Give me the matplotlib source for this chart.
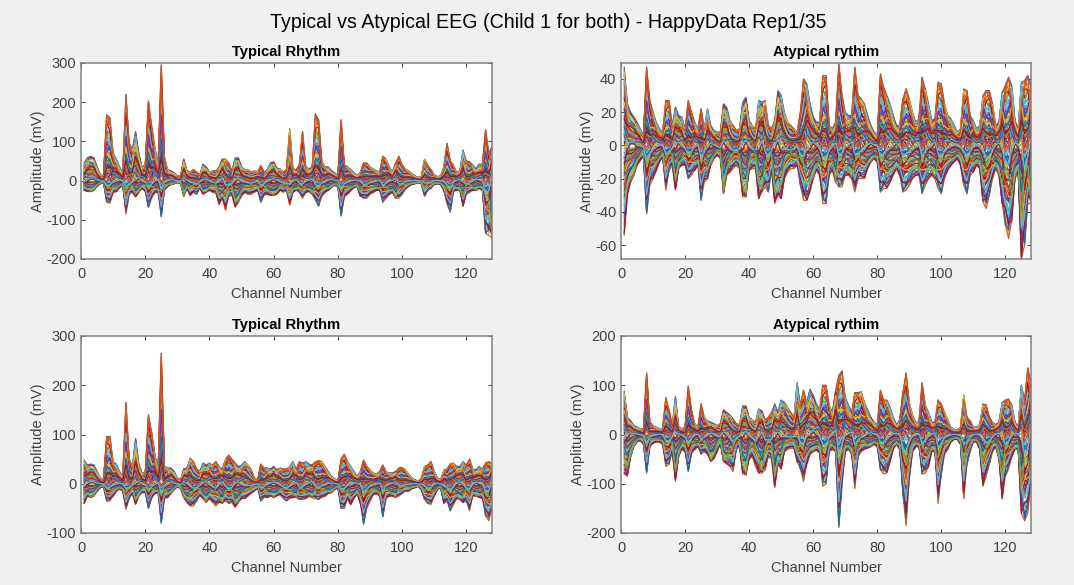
import matplotlib
matplotlib.use('Agg')
import matplotlib.pyplot as plt
import numpy as np

# Envelopes (top and bottom of each band), one value per channel.
# The single traces inside the band cannot be told apart, so they are drawn
# at the fixed fractions in trace_levels between these envelopes, and
# trace_drift / channel_phase only move them between those fractions so they cross.
channels = list(range(1, 129))

typical1_hi = [45, 58, 62, 58, 35, 15, 12, 168, 160, 70, 55, 35, 20, 220, 95, 80, 125, 70, 35, 40, 203, 140, 85, 40, 295, 60, 28, 25, 20, 12, 12, 55, 25, 22, 28, 22, 15, 42, 35, 22, 25, 25, 35, 55, 55, 45, 25, 58, 58, 35, 28, 28, 22, 25, 22, 38, 22, 28, 45, 48, 32, 30, 22, 28, 132, 30, 28, 40, 125, 35, 30, 35, 170, 155, 50, 35, 35, 25, 20, 12, 155, 40, 35, 28, 20, 12, 22, 45, 45, 35, 30, 25, 22, 62, 55, 35, 22, 45, 62, 40, 30, 25, 18, 12, 8, 10, 55, 38, 28, 15, 10, 12, 35, 95, 50, 40, 20, 25, 78, 50, 48, 40, 30, 42, 42, 130, 70, 87]
typical1_lo = [-25, -28, -28, -25, -15, -8, -5, -55, -58, -30, -28, -18, -12, -85, -35, -30, -42, -30, -20, -28, -68, -45, -30, -30, -92, -25, -15, -10, -8, -5, -8, -40, -20, -38, -30, -35, -20, -35, -30, -25, -30, -32, -60, -45, -75, -40, -38, -68, -55, -38, -30, -35, -35, -30, -25, -55, -38, -35, -38, -38, -35, -25, -30, -25, -62, -30, -25, -30, -45, -30, -28, -35, -50, -65, -40, -30, -25, -18, -12, -15, -90, -42, -35, -25, -18, -15, -40, -45, -45, -35, -30, -25, -25, -55, -45, -35, -30, -45, -45, -35, -22, -15, -10, -8, -5, -8, -40, -25, -20, -10, -8, -10, -25, -60, -80, -28, -25, -25, -65, -35, -30, -25, -25, -20, -25, -135, -140, -145]

atypical1_hi = [47, 25, 20, 17, 14, 10, 6, 47, 27, 20, 14, 10, 8, 27, 27, 12, 23, 18, 17, 10, 27, 20, 14, 10, 22, 10, 22, 12, 9, 8, 8, 25, 23, 15, 12, 9, 10, 26, 29, 15, 12, 10, 27, 26, 27, 12, 10, 15, 33, 30, 20, 14, 12, 10, 8, 20, 40, 37, 25, 17, 14, 14, 42, 42, 12, 10, 14, 49, 30, 20, 18, 18, 47, 30, 28, 25, 18, 12, 8, 6, 43, 35, 30, 25, 18, 12, 12, 28, 34, 28, 20, 14, 16, 41, 34, 25, 15, 16, 38, 37, 25, 18, 16, 12, 8, 10, 34, 33, 18, 15, 10, 12, 30, 33, 33, 25, 12, 14, 32, 36, 41, 36, 15, 10, 38, 39, 42, 36]
atypical1_lo = [-54, -30, -22, -18, -12, -9, -7, -41, -24, -20, -15, -10, -7, -27, -15, -12, -27, -14, -12, -12, -20, -18, -15, -12, -33, -22, -20, -12, -8, -6, -8, -29, -18, -16, -14, -12, -14, -31, -31, -15, -14, -14, -32, -28, -25, -28, -15, -35, -30, -32, -20, -16, -14, -14, -12, -24, -33, -33, -28, -20, -15, -18, -35, -35, -18, -15, -22, -25, -25, -18, -18, -20, -28, -20, -20, -20, -14, -10, -8, -10, -28, -26, -26, -22, -18, -14, -18, -28, -27, -24, -20, -18, -18, -29, -24, -20, -18, -20, -26, -29, -20, -15, -12, -10, -8, -12, -24, -29, -18, -16, -12, -14, -34, -38, -30, -20, -14, -18, -35, -48, -56, -45, -20, -16, -68, -60, -35, -35]

typical2_hi = [48, 38, 40, 38, 25, 12, 8, 96, 96, 45, 40, 25, 15, 165, 50, 35, 92, 40, 22, 22, 140, 105, 60, 28, 265, 35, 32, 32, 25, 12, 8, 30, 32, 52, 45, 30, 25, 42, 38, 42, 38, 45, 35, 30, 50, 58, 50, 42, 35, 38, 45, 38, 28, 12, 8, 40, 32, 32, 30, 35, 28, 32, 30, 30, 35, 45, 30, 45, 42, 45, 40, 38, 45, 47, 45, 35, 25, 15, 10, 5, 50, 60, 45, 35, 25, 15, 25, 48, 35, 28, 22, 20, 25, 38, 25, 22, 22, 25, 32, 33, 28, 20, 12, 8, 5, 12, 35, 38, 45, 25, 12, 8, 28, 30, 40, 42, 35, 35, 45, 38, 50, 30, 28, 35, 30, 42, 45, 40]
typical2_lo = [-40, -25, -28, -25, -15, -8, -6, -35, -35, -25, -15, -10, -15, -52, -30, -20, -42, -25, -18, -18, -50, -30, -20, -18, -80, -30, -28, -20, -12, -6, -10, -28, -38, -45, -45, -35, -25, -30, -38, -30, -38, -45, -38, -40, -35, -40, -38, -48, -38, -30, -30, -25, -20, -15, -8, -35, -28, -28, -25, -28, -25, -22, -30, -35, -30, -28, -28, -32, -32, -30, -25, -28, -30, -32, -28, -25, -20, -18, -12, -8, -50, -50, -30, -42, -30, -20, -40, -82, -50, -35, -22, -20, -25, -67, -30, -25, -25, -28, -25, -20, -15, -15, -10, -8, -5, -12, -32, -40, -42, -25, -12, -8, -40, -35, -55, -42, -30, -32, -38, -35, -55, -25, -25, -28, -30, -65, -75, -50]

atypical2_hi = [88, 35, 28, 18, 15, 12, 10, 125, 25, 18, 15, 12, 12, 75, 50, 18, 77, 15, 12, 15, 98, 50, 22, 15, 62, 35, 28, 25, 22, 18, 22, 50, 45, 40, 32, 22, 20, 58, 58, 35, 30, 25, 52, 48, 30, 35, 45, 62, 45, 70, 65, 55, 45, 35, 105, 60, 90, 65, 92, 80, 62, 50, 100, 100, 60, 45, 90, 120, 129, 75, 60, 45, 85, 85, 87, 65, 50, 35, 25, 20, 90, 70, 70, 55, 35, 20, 30, 85, 125, 65, 40, 25, 25, 105, 60, 45, 25, 25, 70, 62, 45, 30, 15, 10, 10, 15, 80, 35, 28, 15, 15, 20, 62, 60, 35, 25, 20, 25, 65, 70, 72, 60, 25, 15, 100, 70, 135, 105]
atypical2_lo = [-80, -85, -45, -25, -15, -12, -20, -78, -25, -18, -15, -15, -20, -65, -60, -35, -95, -45, -30, -35, -75, -40, -30, -25, -40, -35, -40, -55, -50, -35, -20, -55, -60, -65, -75, -30, -25, -80, -82, -50, -45, -65, -78, -78, -72, -45, -50, -108, -60, -70, -35, -30, -28, -28, -55, -70, -95, -60, -40, -35, -32, -38, -105, -100, -35, -30, -35, -188, -105, -35, -30, -40, -110, -45, -35, -30, -28, -25, -20, -25, -72, -80, -78, -55, -30, -20, -30, -120, -185, -90, -35, -25, -25, -80, -78, -65, -35, -35, -140, -80, -40, -30, -15, -10, -10, -20, -130, -60, -35, -15, -15, -30, -105, -85, -60, -35, -25, -50, -130, -85, -70, -45, -30, -30, -160, -175, -160, -100]

# positive = share of the upper envelope, negative = share of the lower one
trace_levels = [1.0, 0.97, 0.94, 0.91, 0.88, 0.85, 0.82, 0.79, 0.76, 0.73, 0.7, 0.67, 0.65, 0.62, 0.6, 0.57,
                0.55, 0.53, 0.51, 0.49, 0.47, 0.45, 0.43, 0.41, 0.39, 0.38, 0.36, 0.34, 0.33, 0.31, 0.3, 0.28,
                0.27, 0.25, 0.24, 0.23, 0.21, 0.2, 0.19, 0.18, 0.16, 0.15, 0.14, 0.13, 0.12, 0.11, 0.09,
                0.07, 0.05, 0.02,
                -0.03, -0.06, -0.08, -0.1, -0.12, -0.13, -0.14,
                -0.15, -0.16, -0.18, -0.19, -0.2, -0.21, -0.23, -0.24, -0.25, -0.27, -0.28, -0.3, -0.31, -0.33,
                -0.34, -0.36, -0.38, -0.39, -0.41, -0.43, -0.45, -0.47, -0.49, -0.51, -0.53, -0.55, -0.57, -0.6,
                -0.62, -0.65, -0.67, -0.7, -0.73, -0.76, -0.79, -0.82, -0.85, -0.88, -0.91, -0.94, -0.97, -0.99, -1.0]
trace_drift = [0, 0, 3, -2, 5, -4, 1, -5, 4, 2, -3]
channel_phase = [0, 2, 3, 3, 2, 1, -1, -3, -2, 0,
                 1, 2, 1, -2, -3, -1, 2, 3, 1, -1,
                 -3, -2, 1, 2, -3, -1, 1, 3, 2, 0,
                 -2, 3, 2, 0, -2, -3, -1, 2, 3, 1,
                 -1, -2, 1, 3, -1, -3, -2, 2, 3, 1,
                 0, -1, -2, -1, 1, -3, -2, 1, 2, 3,
                 2, 0, -2, -3, -1, 1, 3, -3, -2, 1,
                 2, 3, -2, -3, -1, 0, 2, 3, 2, 1,
                 -3, -2, 0, 1, 2, 3, 1, -3, -2, -1,
                 0, 1, 2, -3, -1, 1, 2, 3, -2, -3,
                 -1, 0, 1, 2, 1, 0, -1, -3, -2, 1,
                 2, 1, 0, -2, -3, -1, 2, 3, 1, -3,
                 -2, 1, 3, 2, 1, -3, -2, 3]

matlab_colors = ['#0072BD', '#D95319', '#EDB120', '#7E2F8E', '#77AC30', '#4DBEEE', '#A2142F']

panels = [
    ('Typical Rhythm', typical1_hi, typical1_lo, (-200, 300), [-200, -100, 0, 100, 200, 300], (81, 63, 492, 259)),
    ('Atypical rythim', atypical1_hi, atypical1_lo, (-68.4, 49.6), [-60, -40, -20, 0, 20, 40], (621, 63, 1031, 259)),
    ('Typical Rhythm', typical2_hi, typical2_lo, (-100, 300), [-100, 0, 100, 200, 300], (81, 336, 492, 533)),
    ('Atypical rythim', atypical2_hi, atypical2_lo, (-200, 200), [-200, -100, 0, 100, 200], (621, 336, 1031, 533)),
]

W, H = 1074, 585
TEXT = '#404040'

plt.rcParams['font.family'] = ['Liberation Sans', 'DejaVu Sans']
plt.rcParams['axes.unicode_minus'] = False


def trace_values(index, hi, lo):
    levels = np.array(trace_levels)
    last = len(levels) - 1
    moved = index + trace_drift[index % len(trace_drift)] * np.array(channel_phase)
    # bounce off the ends instead of piling up on the envelope
    moved = np.abs(moved)
    moved = np.where(moved > last, 2 * last - moved, moved)
    picked = levels[moved]
    return np.where(picked >= 0, picked * hi, -picked * lo)


def draw_panel(fig, title, hi, lo, ylim, yticks, box):
    left, top, right, bottom = box
    ax = fig.add_axes([left / W, 1 - bottom / H, (right - left) / W, (bottom - top) / H])
    hi = np.array(hi, dtype=float)
    lo = np.array(lo, dtype=float)
    count = len(trace_levels)
    # mixed draw order, so no colour or level always ends up on top
    order = sorted(range(count), key=lambda i: (i * 37) % count)
    for index in order:
        ax.plot(channels, trace_values(index, hi, lo), lw=0.85,
                color=matlab_colors[index % len(matlab_colors)])
    ax.set_xlim(0, 128)
    ax.set_ylim(*ylim)
    ax.set_xticks(range(0, 121, 20))
    ax.set_yticks(yticks)
    ax.tick_params(direction='in', top=True, right=True, length=3, width=0.7, color='#404040',
                   labelsize=10.5, labelcolor=TEXT, pad=3.5)
    ax.tick_params(axis='x', pad=6)
    for spine in ax.spines.values():
        spine.set_color('#808080')
        spine.set_linewidth(1.1)
    ax.set_xlabel('Channel Number', fontsize=10.5, color=TEXT, labelpad=4)
    ax.set_ylabel('Amplitude (mV)', fontsize=10.5, color=TEXT, labelpad=1)
    ax.set_title(title, fontsize=10.6, fontweight='bold', color='black', pad=5)


def main():
    fig = plt.figure(figsize=(W / 100, H / 100), dpi=100, facecolor='#f0f0f0')
    for title, hi, lo, ylim, yticks, box in panels:
        draw_panel(fig, title, hi, lo, ylim, yticks, box)
    fig.text(548 / W, 1 - 23 / H, 'Typical vs Atypical EEG (Child 1 for both) - HappyData Rep1/35',
             ha='center', va='center', fontsize=14.1, color='black')
    fig.savefig('out.png', dpi=100, facecolor=fig.get_facecolor())


if __name__ == '__main__':
    main()
